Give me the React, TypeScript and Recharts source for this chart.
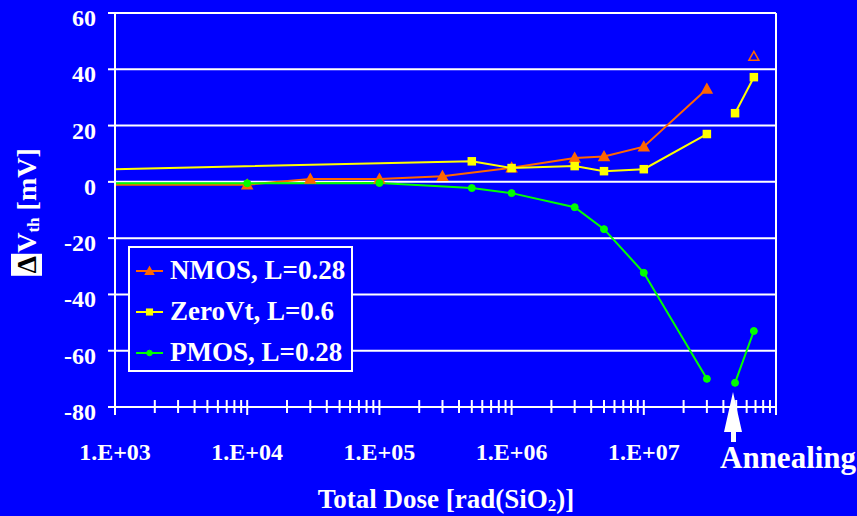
import React from 'react';
import { LineChart, Line, XAxis, YAxis, CartesianGrid, Legend, ReferenceLine } from 'recharts';

// dose in rad(SiO2), shift in mV
const nmosDose = [1e3, 1e4, 3e4, 1e5, 3e5, 1e6, 3e6, 5e6, 1e7, 3e7];
const nmosDvth = [-1, -1, 1, 1, 2, 5, 8.5, 9, 12.5, 33];
const zeroDose = [1e3, 5e5, 1e6, 3e6, 5e6, 1e7, 3e7];
const zeroDvth = [4.5, 7.3, 4.9, 5.6, 3.8, 4.5, 17];
const pmosDose = [1e3, 1e4, 1e5, 5e5, 1e6, 3e6, 5e6, 1e7, 3e7];
const pmosDvth = [-0.5, -0.5, -0.4, -2.2, -4, -9, -16.8, -32.3, -70];

// values after annealing, drawn at the right edge
const annealDose = [4.9e7, 6.8e7];
const nmosAnneal = [null, 44.6];
const zeroAnneal = [24.4, 37.2];
const pmosAnneal = [-71.4, -53];

const yTicks = [-80, -60, -40, -20, 0, 20, 40, 60];
const xTicks: number[] = [];
for (let e = 3; e < 8; e++) for (let m = 1; m < 10; m++) xTicks.push(m * Math.pow(10, e));
xTicks.push(1e8);

const legendItems = [
  { name: 'NMOS, L=0.28', color: '#FF6600', shape: 'triangle' },
  { name: 'ZeroVt, L=0.6', color: '#FFFF00', shape: 'square' },
  { name: 'PMOS, L=0.28', color: '#00FF00', shape: 'circle' },
];

const toRows = (xs: number[], ys: (number | null)[]) => xs.map((x, i) => ({ x, y: ys[i] }));

const FONT = '"Liberation Serif", "Times New Roman", serif';
const BLUE = '#0000FF';

function Marker({ cx, cy, color, shape, hollow, s = 1 }: any) {
  if (cx == null || cy == null) return null;
  const fill = hollow ? BLUE : color;
  if (shape === 'triangle') {
    return <polygon points={`${cx},${cy - 5 * s} ${cx - 5 * s},${cy + 4 * s} ${cx + 5 * s},${cy + 4 * s}`} fill={fill} stroke={color} strokeWidth={1.5} />;
  }
  if (shape === 'square') {
    return <rect x={cx - 3.5 * s} y={cy - 3.5 * s} width={7 * s} height={7 * s} fill={fill} stroke={color} strokeWidth={1.5} />;
  }
  return <circle cx={cx} cy={cy} r={3.5 * s} fill={fill} stroke={color} strokeWidth={1} />;
}

const makeDot = (color: string, shape: string, hollowFirst = false) => (props: any) => {
  const { cx, cy, index, payload } = props;
  const key = `${shape}-${index}-${cx}`;
  // no marker on the pre-irradiation value sitting on the axis
  if (payload && payload.x === 1e3) return <g key={key} />;
  return <Marker key={key} cx={cx} cy={cy} color={color} shape={shape} hollow={hollowFirst} />;
};

function XTick(props: any) {
  const { x, y, payload } = props;
  const v = payload.value;
  const exp = Math.log10(v);
  const decade = Math.abs(exp - Math.round(exp)) < 1e-9;
  return (
    <g>
      <line x1={x} x2={x} y1={y - 7} y2={y + (decade ? 8 : 6)} stroke="#fff" strokeWidth={2} />
      {decade && v < 1e8 && (
        <text x={x} y={y + 53} textAnchor="middle" fill="#fff" fontFamily={FONT} fontWeight="bold" fontSize={24}>
          {`1.E+0${Math.round(exp)}`}
        </text>
      )}
    </g>
  );
}

function YTick(props: any) {
  const { x, y, payload } = props;
  return (
    <text x={x - 12} y={y + 13} textAnchor="end" fill="#fff" fontFamily={FONT} fontWeight="bold" fontSize={24}>
      {payload.value}
    </text>
  );
}

function LegendBox() {
  return (
    <div style={{ width: 221, height: 122, border: '2px solid #fff', background: BLUE, boxSizing: 'content-box' }}>
      {legendItems.map((it, i) => (
        <div key={it.name} style={{ position: 'relative', height: 41, display: 'flex', alignItems: 'center', marginTop: i === 0 ? 2 : 0 }}>
          <svg width={40} height={20} style={{ flexShrink: 0 }}>
            <line x1={6} x2={33} y1={10} y2={10} stroke={it.color} strokeWidth={2} />
            <Marker cx={19.5} cy={10} color={it.color} shape={it.shape} s={0.8} />
          </svg>
          <span style={{ color: '#fff', fontFamily: FONT, fontWeight: 'bold', fontSize: 27, whiteSpace: 'nowrap' }}>{it.name}</span>
        </div>
      ))}
    </div>
  );
}

export default function App() {
  return (
    <div style={{ position: 'absolute', left: 0, top: 0, width: 857, height: 516, background: BLUE, overflow: 'hidden' }}>
      <LineChart width={857} height={516} margin={{ top: 13, right: 81, bottom: 0, left: 0 }}>
        <CartesianGrid vertical={false} stroke="#fff" strokeWidth={2} strokeOpacity={1} />
        <XAxis
          dataKey="x"
          type="number"
          scale="log"
          domain={[1e3, 1e8]}
          ticks={xTicks}
          interval={0}
          allowDataOverflow
          height={109}
          tickSize={0}
          tickMargin={0}
          tick={<XTick />}
          axisLine={{ stroke: '#fff', strokeWidth: 2 }}
          tickLine={false}
        />
        <YAxis
          type="number"
          domain={[-80, 60]}
          ticks={yTicks}
          interval={0}
          width={115}
          tickSize={7}
          tickMargin={0}
          tick={<YTick />}
          axisLine={{ stroke: '#fff', strokeWidth: 2 }}
          tickLine={{ stroke: '#fff', strokeWidth: 2 }}
        />
        <ReferenceLine x={1e8} stroke="#fff" strokeWidth={2} />
        <Legend
          layout="vertical"
          align="center"
          verticalAlign="middle"
          content={() => <LegendBox />}
          wrapperStyle={{ left: 128, top: 246, width: 225, height: 126 }}
        />
        <Line data={toRows(nmosDose, nmosDvth)} dataKey="y" stroke="#FF6600" strokeWidth={2} dot={makeDot('#FF6600', 'triangle')} legendType="none" isAnimationActive={false} />
        <Line data={toRows(zeroDose, zeroDvth)} dataKey="y" stroke="#FFFF00" strokeWidth={2} dot={makeDot('#FFFF00', 'square')} legendType="none" isAnimationActive={false} />
        <Line data={toRows(pmosDose, pmosDvth)} dataKey="y" stroke="#00FF00" strokeWidth={2} dot={makeDot('#00FF00', 'circle')} legendType="none" isAnimationActive={false} />
        <Line data={toRows(annealDose, nmosAnneal)} dataKey="y" stroke="#FF6600" strokeWidth={2} dot={makeDot('#FF6600', 'triangle', true)} legendType="none" isAnimationActive={false} />
        <Line data={toRows(annealDose, zeroAnneal)} dataKey="y" stroke="#FFFF00" strokeWidth={2} dot={makeDot('#FFFF00', 'square')} legendType="none" isAnimationActive={false} />
        <Line data={toRows(annealDose, pmosAnneal)} dataKey="y" stroke="#00FF00" strokeWidth={2} dot={makeDot('#00FF00', 'circle')} legendType="none" isAnimationActive={false} />
      </LineChart>

      {/* y title: the delta glyph shows as a white box in the source */}
      <div
        style={{
          position: 'absolute', left: 30, top: 212, transform: 'translate(-50%, -50%) rotate(-90deg)',
          whiteSpace: 'nowrap', color: '#fff', fontFamily: FONT, fontWeight: 'bold', fontSize: 28, lineHeight: '31px',
        }}
      >
        <span style={{ display: 'inline-block', background: '#fff', color: '#000', width: 22, textAlign: 'center', marginRight: 1 }}>Δ</span>
        V<span style={{ fontSize: 17, verticalAlign: -3 }}>th</span> [mV]
      </div>

      <div style={{ position: 'absolute', left: 446, top: 483, transform: 'translateX(-50%)', whiteSpace: 'nowrap', color: '#fff', fontFamily: FONT, fontWeight: 'bold', fontSize: 27, lineHeight: '32px' }}>
        Total Dose [rad(SiO<sub style={{ fontSize: 17, verticalAlign: -3, lineHeight: 0 }}>2</sub>)]
      </div>

      <div style={{ position: 'absolute', left: 720, top: 440, whiteSpace: 'nowrap', color: '#fff', fontFamily: FONT, fontWeight: 'bold', fontSize: 31, lineHeight: '36px' }}>
        Annealing
      </div>
      <svg width={857} height={516} style={{ position: 'absolute', left: 0, top: 0, pointerEvents: 'none' }}>
        <polygon points="733,392 724,432 731,432 731,442 736,442 736,432 742,432" fill="#fff" />
      </svg>
    </div>
  );
}
